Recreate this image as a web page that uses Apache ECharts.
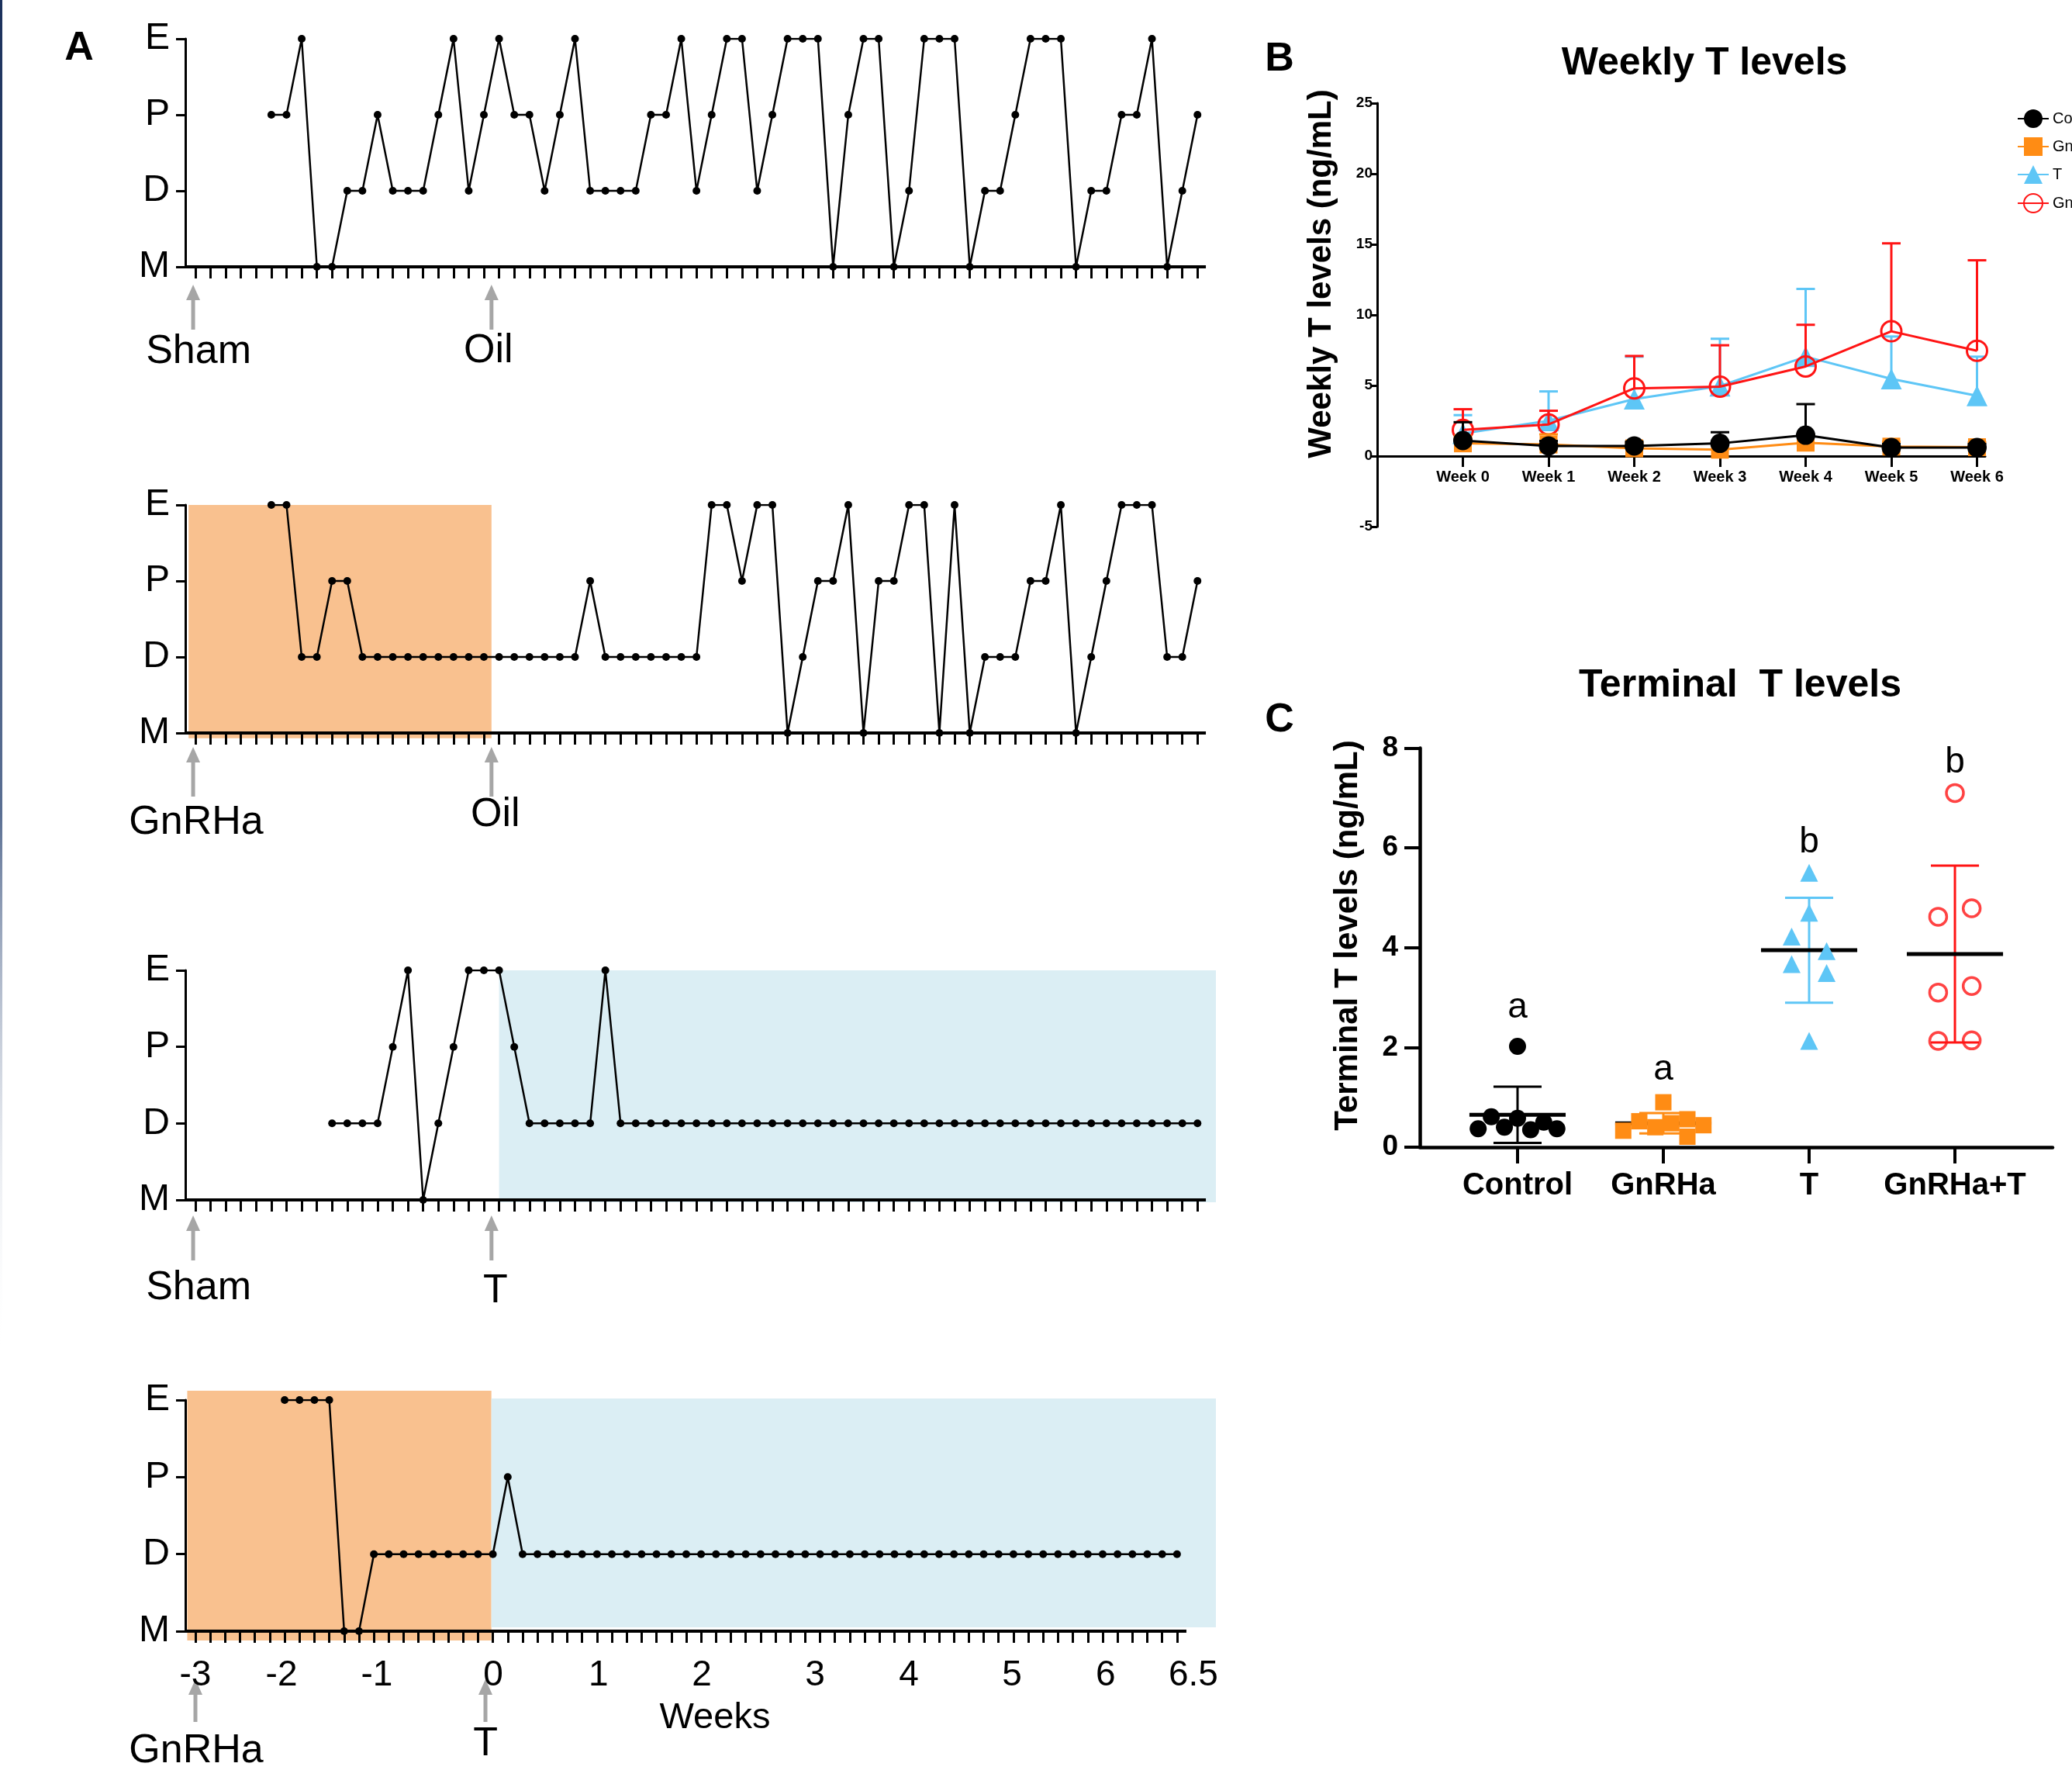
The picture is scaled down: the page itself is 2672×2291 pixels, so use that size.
<!DOCTYPE html>
<html>
<head>
<meta charset="utf-8">
<title>Estrous cycles and T levels</title>
<script src="https://cdn.jsdelivr.net/npm/echarts@6.0.0/dist/echarts.min.js"></script>
<style>
  html, body { margin: 0; padding: 0; background: #fff; }
  #chart { width: 2672px; height: 2291px; }
</style>
</head>
<body>
<div id="chart"></div>
<script>
const _ = null;
const stageNames = ['M', 'D', 'P', 'E'];

// Panel A: estrous stage per day, day 0 = week -3, one row per week
const shamOilStages = [
  _, _, _, _, _, 'P', 'P',
  'E', 'M', 'M', 'D', 'D', 'P', 'D',
  'D', 'D', 'P', 'E', 'D', 'P', 'E',
  'P', 'P', 'D', 'P', 'E', 'D', 'D',
  'D', 'D', 'P', 'P', 'E', 'D', 'P',
  'E', 'E', 'D', 'P', 'E', 'E', 'E',
  'M', 'P', 'E', 'E', 'M', 'D', 'E',
  'E', 'E', 'M', 'D', 'D', 'P', 'E',
  'E', 'E', 'M', 'D', 'D', 'P', 'P',
  'E', 'M', 'D', 'P'
];
const gnrhaOilStages = [
  _, _, _, _, _, 'E', 'E',
  'D', 'D', 'P', 'P', 'D', 'D', 'D',
  'D', 'D', 'D', 'D', 'D', 'D', 'D',
  'D', 'D', 'D', 'D', 'D', 'P', 'D',
  'D', 'D', 'D', 'D', 'D', 'D', 'E',
  'E', 'P', 'E', 'E', 'M', 'D', 'P',
  'P', 'E', 'M', 'P', 'P', 'E', 'E',
  'M', 'E', 'M', 'D', 'D', 'D', 'P',
  'P', 'E', 'M', 'D', 'P', 'E', 'E',
  'E', 'D', 'D', 'P'
];
const shamTStages = [
  _, _, _, _, _, _, _,
  _, _, 'D', 'D', 'D', 'D', 'P',
  'E', 'M', 'D', 'P', 'E', 'E', 'E',
  'P', 'D', 'D', 'D', 'D', 'D', 'E',
  'D', 'D', 'D', 'D', 'D', 'D', 'D',
  'D', 'D', 'D', 'D', 'D', 'D', 'D',
  'D', 'D', 'D', 'D', 'D', 'D', 'D',
  'D', 'D', 'D', 'D', 'D', 'D', 'D',
  'D', 'D', 'D', 'D', 'D', 'D', 'D',
  'D', 'D', 'D', 'D'
];
const gnrhaTStages = [
  _, _, _, _, _, _, 'E',
  'E', 'E', 'E', 'M', 'M', 'D', 'D',
  'D', 'D', 'D', 'D', 'D', 'D', 'D',
  'P', 'D', 'D', 'D', 'D', 'D', 'D',
  'D', 'D', 'D', 'D', 'D', 'D', 'D',
  'D', 'D', 'D', 'D', 'D', 'D', 'D',
  'D', 'D', 'D', 'D', 'D', 'D', 'D',
  'D', 'D', 'D', 'D', 'D', 'D', 'D',
  'D', 'D', 'D', 'D', 'D', 'D', 'D',
  'D', 'D', 'D', 'D'
];

// treatment windows (days); 'edge' = runs to the right edge of the panel
const oilDay = 19.5;
const gnrhaOilWindow = [-0.45, 19.5];
const shamTWindow = [20.0, 'edge'];
const gnrhaTGnrhaWindow = [-0.55, 19.9];
const gnrhaTTWindow = [19.9, 'edge'];

// week labels of the bottom axis (placed at these days)
const weekTickLabels = ['-3', '-2', '-1', '0', '1', '2', '3', '4', '5', '6', '6.5'];
const weekTickDays = [0, 5.79, 12.2, 20.02, 27.1, 34.05, 41.66, 47.97, 54.9, 61.2, 67.1];

// Panel B: weekly T (mean and upper SD)
const weeks = [0, 1, 2, 3, 4, 5, 6];
const controlWeekly = [1.1, 0.72, 0.72, 0.9, 1.48, 0.6, 0.6];
const controlWeeklySd = [1.3, 0.35, 0.3, 0.79, 2.2, 0.25, 0.25];
const gnrhaWeekly = [0.9, 0.82, 0.55, 0.45, 0.95, 0.67, 0.63];
const gnrhaWeeklySd = [0.4, 0.72, 0.4, 0.35, 0.55, 0.35, 0.35];
const tWeekly = [1.6, 2.5, 4.04, 4.96, 7.04, 5.47, 4.27];
const tWeeklySd = [1.3, 2.08, 3.0, 3.35, 4.8, 3.0, 2.77];
const gtWeekly = [1.85, 2.24, 4.8, 4.92, 6.35, 8.84, 7.46];
const gtWeeklySd = [1.47, 0.97, 2.29, 2.93, 2.95, 6.23, 6.41];

// Panel C: terminal T, individual animals (with horizontal scatter offsets)
const groupNames = ['Control', 'GnRHa', 'T', 'GnRHa+T'];
const controlTerminal = [0.37, 0.61, 0.40, 2.02, 0.58, 0.35, 0.50, 0.37];
const controlJitter = [-0.27, -0.18, -0.09, 0, 0, 0.09, 0.18, 0.27];
const gnrhaTerminal = [0.33, 0.52, 0.40, 0.90, 0.48, 0.56, 0.21, 0.44];
const gnrhaJitter = [-0.275, -0.165, -0.055, 0, 0.055, 0.165, 0.165, 0.275];
const tTerminal = [5.5, 4.7, 4.22, 3.93, 3.67, 3.49, 2.13];
const tJitter = [0, 0, -0.12, 0.12, -0.12, 0.12, 0];
const gtTerminal = [7.1, 4.62, 4.79, 3.1, 3.23, 2.13, 2.14];
const gtJitter = [0, -0.115, 0.115, -0.115, 0.115, -0.115, 0.115];
const sigLetters = ['a', 'a', 'b', 'b'];
const letterLevels = [2.8, 1.55, 6.1, 7.7];

// ---------- styles / layout ----------
const FONT = 'Liberation Sans, Arial, Helvetica, sans-serif';
const BLACK = '#000', ORANGE = '#FF8C14', BLUE = '#5EC6F6', RED = '#FF1414';
const SHADE_GNRHA = '#F9C18F', SHADE_T = '#DBEEF4';

const A_LEFT = 239, A_RIGHT = 1568, A_DAY0 = 252;
const aPanels = [
  { stages: shamOilStages, top: 50, height: 294, dayPx: 19.58, axisEnd: 66.55,
    windows: [], dashed: true, arrow: [23, 81],
    notes: [{ day: -0.15, text: 'Sham', dx: 7, dy: 110 }, { day: oilDay, text: 'Oil', dx: -4, dy: 109 }] },
  { stages: gnrhaOilStages, top: 651, height: 294, dayPx: 19.58, axisEnd: 66.55,
    windows: [{ range: gnrhaOilWindow, y: [-0.07, 3.0], color: SHADE_GNRHA }], arrow: [18, 82],
    notes: [{ day: -0.15, text: 'GnRHa', dx: 4, dy: 116 }, { day: oilDay, text: 'Oil', dx: 5, dy: 106 }] },
  { stages: shamTStages, top: 1251, height: 296, dayPx: 19.58, axisEnd: 66.55,
    windows: [{ range: shamTWindow, y: [-0.03, 3.0], color: SHADE_T }], arrow: [20, 78],
    notes: [{ day: -0.15, text: 'Sham', dx: 7, dy: 114 }, { day: oilDay, text: 'T', dx: 5, dy: 118 }] },
  { stages: gnrhaTStages, top: 1805, height: 298, dayPx: 19.18, axisEnd: 66.63,
    windows: [{ range: gnrhaTGnrhaWindow, y: [-0.12, 3.12], color: SHADE_GNRHA },
              { range: gnrhaTTWindow, y: [0.05, 3.02], color: SHADE_T }], arrow: [62, 117],
    notes: [{ day: 0, text: 'GnRHa', dx: 1, dy: 155 }, { day: oilDay, text: 'T', dx: 0, dy: 146 }],
    weekLabels: true }
];
aPanels.forEach(p => {
  p.min = (A_LEFT - A_DAY0) / p.dayPx;
  p.max = (A_RIGHT - A_DAY0) / p.dayPx;
});
const dayTicks = [];
for (let d = 0; d <= 66; d++) dayTicks.push(d);

function mean(a) { return a.reduce((s, v) => s + v, 0) / a.length; }
function sd(a) {
  const m = mean(a);
  return Math.sqrt(a.reduce((s, v) => s + (v - m) * (v - m), 0) / (a.length - 1));
}

const chart = echarts.init(document.getElementById('chart'));

const grids = [], xAxes = [], yAxes = [], series = [];

aPanels.forEach((p, i) => {
  grids.push({ left: A_LEFT, top: p.top, width: A_RIGHT - A_LEFT, height: p.height, outerBoundsMode: 'none' });
  xAxes.push({
    gridIndex: i, type: 'value', min: p.min, max: p.max, z: 5,
    axisLine: { show: false },
    axisTick: { show: true, customValues: dayTicks, length: 15, lineStyle: { color: BLACK, width: 3 } },
    axisLabel: p.weekLabels ? {
      show: true, customValues: weekTickDays, margin: 34, color: BLACK, fontFamily: FONT, fontSize: 46,
      formatter: v => {
        let best = 0;
        weekTickDays.forEach((d, k) => { if (Math.abs(d - v) < Math.abs(weekTickDays[best] - v)) best = k; });
        return weekTickLabels[best];
      }
    } : { show: false },
    splitLine: { show: false }
  });
  yAxes.push({
    gridIndex: i, type: 'value', min: 0, max: 3, interval: 1, z: 5,
    axisLine: { show: true, onZero: false, lineStyle: { color: BLACK, width: 3 } },
    axisTick: { show: true, length: 12, lineStyle: { color: BLACK, width: 3 } },
    axisLabel: { color: BLACK, fontFamily: FONT, fontSize: 48, margin: 20, showMinLabel: true, showMaxLabel: true,
      formatter: v => stageNames[v] },
    splitLine: { show: false }
  });

  if (p.windows.length) {
    series.push({
      type: 'custom', xAxisIndex: i, yAxisIndex: i, z: 0, silent: true,
      data: p.windows.map(w => [w.range[0], w.range[1] === 'edge' ? p.max : w.range[1], w.y[0], w.y[1]]),
      renderItem: (params, api) => {
        const a = api.coord([api.value(0), api.value(3)]);
        const b = api.coord([api.value(1), api.value(2)]);
        return { type: 'rect', shape: { x: a[0], y: a[1], width: b[0] - a[0], height: b[1] - a[1] },
          style: { fill: p.windows[params.dataIndex].color } };
      }
    });
  }

  const lines = [[{ coord: [p.min, 0], lineStyle: { color: BLACK, width: 4, type: 'solid' } }, { coord: [p.axisEnd, 0] }]];
  if (p.dashed) {
    lines.push([{ coord: [oilDay, 0], lineStyle: { color: '#808080', width: 4, type: [16, 12] } }, { coord: [oilDay, 3.13] }]);
  }
  series.push({
    type: 'line', xAxisIndex: i, yAxisIndex: i, z: 3,
    data: p.stages.map((s, d) => s ? [d, stageNames.indexOf(s)] : null).filter(Boolean),
    symbol: 'circle', symbolSize: 10,
    itemStyle: { color: BLACK }, lineStyle: { color: BLACK, width: 2.5 },
    markLine: { silent: true, symbol: ['none', 'none'], label: { show: false }, animation: false, data: lines }
  });
});

// ----- Panel B (upper part: 0..25, grid 4) -----
const B_LEFT = 1776, B_WIDTH = 784, B_TOP = 133, B_ZERO = 588, B_BOTTOM = 679;
grids.push({ left: B_LEFT, top: B_TOP, width: B_WIDTH, height: B_ZERO - B_TOP, outerBoundsMode: 'none' });
xAxes.push({
  gridIndex: 4, type: 'value', min: -1, max: 6.095,
  axisLine: { show: true, onZero: false, lineStyle: { color: BLACK, width: 3 } },
  axisTick: { show: true, customValues: weeks, length: 14, lineStyle: { color: BLACK, width: 3 } },
  axisLabel: { customValues: weeks, formatter: v => 'Week ' + v, color: BLACK, fontFamily: FONT,
    fontWeight: 'bold', fontSize: 20, margin: 17 },
  splitLine: { show: false }
});
yAxes.push({
  gridIndex: 4, type: 'value', min: 0, max: 25, interval: 5,
  axisLine: { show: true, onZero: false, lineStyle: { color: BLACK, width: 3 } },
  axisTick: { show: true, length: 8, lineStyle: { color: BLACK, width: 3 } },
  axisLabel: { color: BLACK, fontFamily: FONT, fontWeight: 'bold', fontSize: 19, margin: 6 },
  splitLine: { show: false }
});

const weeklyGroups = [
  { name: 'T', mean: tWeekly, sd: tWeeklySd, color: BLUE, symbol: 'triangle', size: 27, z: 4 },
  { name: 'GnRHa+T', mean: gtWeekly, sd: gtWeeklySd, color: RED, symbol: 'circle', size: 26, z: 5, hollow: true },
  { name: 'GnRHa', mean: gnrhaWeekly, sd: gnrhaWeeklySd, color: ORANGE, symbol: 'rect', size: 23, z: 6 },
  { name: 'Control', mean: controlWeekly, sd: controlWeeklySd, color: BLACK, symbol: 'circle', size: 25, z: 7 }
];
weeklyGroups.forEach(g => {
  series.push({
    name: g.name + ' SD', type: 'custom', xAxisIndex: 4, yAxisIndex: 4, z: g.z - 0.5, silent: true,
    data: weeks.map((w, k) => [w, g.mean[k], g.mean[k] + g.sd[k]]),
    renderItem: (params, api) => {
      const p0 = api.coord([api.value(0), api.value(1)]);
      const p1 = api.coord([api.value(0), api.value(2)]);
      return { type: 'group', children: [
        { type: 'line', shape: { x1: p0[0], y1: p0[1], x2: p1[0], y2: p1[1] }, style: { stroke: g.color, lineWidth: 3 } },
        { type: 'line', shape: { x1: p1[0] - 12, y1: p1[1], x2: p1[0] + 12, y2: p1[1] }, style: { stroke: g.color, lineWidth: 3 } }
      ] };
    }
  });
  series.push({
    name: g.name, type: 'line', xAxisIndex: 4, yAxisIndex: 4, z: g.z,
    data: weeks.map((w, k) => [w, g.mean[k]]),
    symbol: g.symbol, symbolSize: g.size, showSymbol: true,
    itemStyle: g.hollow ? { color: 'rgba(255,255,255,0)', borderColor: g.color, borderWidth: 3 } : { color: g.color },
    lineStyle: { color: g.color, width: 3 }
  });
});

// ----- Panel C (grid 5) -----
grids.push({ left: 1831, top: 964.5, width: 816, height: 514.5, outerBoundsMode: 'none' });
xAxes.push({
  gridIndex: 5, type: 'value', min: -0.67, max: 3.67,
  axisLine: { show: true, onZero: true, lineStyle: { color: BLACK, width: 4.5 } },
  axisTick: { show: true, customValues: [0, 1, 2, 3], length: 21, lineStyle: { color: BLACK, width: 4 } },
  axisLabel: { customValues: [0, 1, 2, 3], formatter: v => groupNames[Math.round(v)], color: BLACK,
    fontFamily: FONT, fontWeight: 'bold', fontSize: 40, margin: 30 },
  splitLine: { show: false }
});
yAxes.push({
  gridIndex: 5, type: 'value', min: 0, max: 8, interval: 2,
  axisLine: { show: true, onZero: false, lineStyle: { color: BLACK, width: 4.5 } },
  axisTick: { show: true, length: 20, lineStyle: { color: BLACK, width: 4 } },
  axisLabel: { color: BLACK, fontFamily: FONT, fontWeight: 'bold', fontSize: 37, margin: 28 },
  splitLine: { show: false }
});

// ----- Panel B (lower part: -5..0, grid 6) -----
grids.push({ left: B_LEFT, top: B_ZERO, width: B_WIDTH, height: B_BOTTOM - B_ZERO, outerBoundsMode: 'none' });
xAxes.push({ gridIndex: 6, type: 'value', min: -1, max: 6.095, show: false });
yAxes.push({
  gridIndex: 6, type: 'value', min: -5, max: 0, interval: 5,
  axisLine: { show: true, onZero: false, lineStyle: { color: BLACK, width: 3 } },
  axisTick: { show: true, length: 8, lineStyle: { color: BLACK, width: 3 } },
  axisLabel: { color: BLACK, fontFamily: FONT, fontWeight: 'bold', fontSize: 19, margin: 6,
    showMinLabel: true, showMaxLabel: false },
  splitLine: { show: false }
});

const terminalGroups = [
  { values: controlTerminal, jitter: controlJitter, color: BLACK, symbol: 'circle', size: 22 },
  { values: gnrhaTerminal, jitter: gnrhaJitter, color: ORANGE, symbol: 'rect', size: 21 },
  { values: tTerminal, jitter: tJitter, color: BLUE, symbol: 'triangle', size: 23 },
  { values: gtTerminal, jitter: gtJitter, color: RED, symbol: 'circle', size: 22, hollow: true }
];
series.push({
  type: 'custom', xAxisIndex: 5, yAxisIndex: 5, z: 3, silent: true,
  data: terminalGroups.map((g, i) => [i, mean(g.values), sd(g.values)]),
  renderItem: (params, api) => {
    const x = api.value(0), m = api.value(1), s = api.value(2);
    const color = terminalGroups[params.dataIndex].color;
    const top = api.coord([x, m + s]), bot = api.coord([x, m - s]);
    const capL = api.coord([x - 0.165, m])[0], capR = api.coord([x + 0.165, m])[0];
    const mL = api.coord([x - 0.33, m]), mR = api.coord([x + 0.33, m]);
    const st = { stroke: color, lineWidth: 3 };
    return { type: 'group', children: [
      { type: 'line', shape: { x1: top[0], y1: top[1], x2: bot[0], y2: bot[1] }, style: st },
      { type: 'line', shape: { x1: capL, y1: top[1], x2: capR, y2: top[1] }, style: st },
      { type: 'line', shape: { x1: capL, y1: bot[1], x2: capR, y2: bot[1] }, style: st },
      { type: 'line', shape: { x1: mL[0], y1: mL[1], x2: mR[0], y2: mR[1] }, style: { stroke: BLACK, lineWidth: 5 } }
    ] };
  }
});
terminalGroups.forEach((g, i) => {
  series.push({
    type: 'scatter', xAxisIndex: 5, yAxisIndex: 5, z: 5,
    data: g.values.map((v, k) => [i + g.jitter[k], v]),
    symbol: g.symbol, symbolSize: g.size,
    itemStyle: g.hollow ? { color: 'rgba(255,255,255,0)', borderColor: g.color, borderWidth: 3.5 }
                        : { color: g.color, opacity: 1 }
  });
});
series.push({
  type: 'custom', xAxisIndex: 5, yAxisIndex: 5, z: 6, silent: true,
  data: letterLevels.map((v, i) => [i, v]),
  renderItem: (params, api) => {
    const pt = api.coord([api.value(0), api.value(1)]);
    return { type: 'text', x: pt[0], y: pt[1],
      style: { text: sigLetters[params.dataIndex], fill: BLACK, fontFamily: FONT, fontSize: 46,
        align: 'center', verticalAlign: 'middle' } };
  }
});

chart.setOption({
  animation: false,
  backgroundColor: '#fff',
  textStyle: { fontFamily: FONT },
  grid: grids,
  xAxis: xAxes,
  yAxis: yAxes,
  legend: {
    data: ['Control', 'GnRHa', 'T', 'GnRHa+T'],
    orient: 'vertical', left: 2596, top: 136, itemWidth: 40, itemHeight: 30, itemGap: 12,
    textStyle: { color: BLACK, fontFamily: FONT, fontSize: 20 }, selectedMode: false
  },
  series: series
});

// ----- annotations -----
function text(x, y, str, size, bold, rotate) {
  return { type: 'text', x: x, y: y, rotation: rotate ? Math.PI / 2 : 0, silent: true,
    style: { text: str, fill: BLACK, fontFamily: FONT, fontSize: size, fontWeight: bold ? 'bold' : 'normal',
      align: 'center', verticalAlign: 'middle' } };
}
const graphics = [
  { type: 'rect', shape: { x: 0, y: 0, width: 3, height: 1750 }, silent: true,
    style: { fill: new echarts.graphic.LinearGradient(0, 0, 0, 1, [
      { offset: 0, color: '#1b315c' }, { offset: 0.6, color: '#5a6f93' }, { offset: 1, color: 'rgba(255,255,255,0)' }]) } },
  text(102, 63, 'A', 52, true),
  text(1650, 77, 'B', 52, true),
  text(1650, 929, 'C', 52, true),
  text(2198, 82, 'Weekly T levels', 50, true),
  text(2244, 884, 'Terminal  T levels', 50, true),
  text(1704, 353, 'Weekly T levels (ng/mL)', 42, true, true),
  text(1738, 1206, 'Terminal T levels (ng/mL)', 42, true, true)
];
const ARROW = '#A6A6A6';
aPanels.forEach((p, i) => {
  const y0 = chart.convertToPixel({ yAxisIndex: i }, 0);
  p.notes.forEach(n => {
    const x = chart.convertToPixel({ xAxisIndex: i }, n.day);
    const tip = y0 + p.arrow[0], end = y0 + p.arrow[1];
    graphics.push({ type: 'line', silent: true, shape: { x1: x, y1: tip + 16, x2: x, y2: end },
      style: { stroke: ARROW, lineWidth: 5 } });
    graphics.push({ type: 'polygon', silent: true, shape: { points: [[x, tip], [x - 9, tip + 20], [x + 9, tip + 20]] },
      style: { fill: ARROW } });
    graphics.push(text(x + n.dx, y0 + n.dy, n.text, 52, false));
  });
  if (p.weekLabels) graphics.push(text(922, y0 + 112, 'Weeks', 47, false));
});
chart.setOption({ graphic: graphics });
</script>
</body>
</html>
